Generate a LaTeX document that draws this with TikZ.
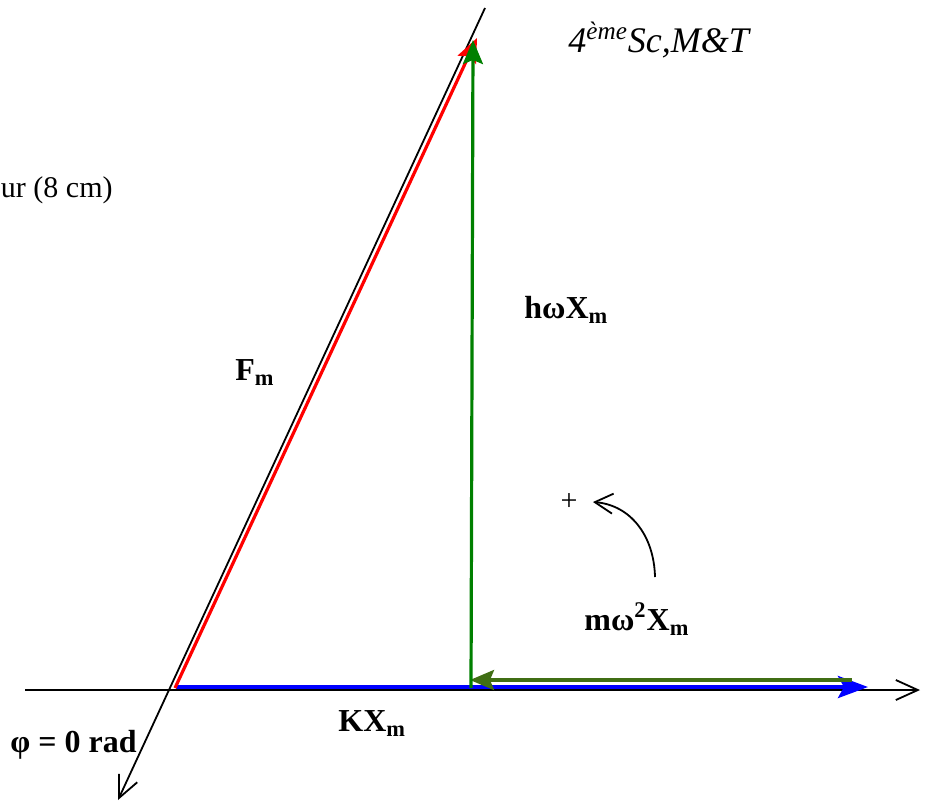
\documentclass[tikz,border=0pt]{standalone}
\usepackage{fontspec}
\setmainfont{Liberation Serif}
\usetikzlibrary{arrows.meta}
\definecolor{vgreen}{RGB}{0,128,0}
\definecolor{volive}{RGB}{64,110,20}
\begin{document}
\begin{tikzpicture}[x=0.5pt,y=-0.5pt,
  axis/.style={draw=black,line width=0.9pt,-{Straight Barb[length=11pt,width=10pt,line width=0.9pt]}},
  vec/.style={line width=1.6pt,-{Stealth[length=12pt,width=10pt,inset=2pt]}},
  lbl/.style={font=\fontsize{16}{18}\selectfont\bfseries,inner sep=0pt,anchor=base west},
  txt/.style={font=\fontsize{15}{17}\selectfont,inner sep=0pt}]
\useasboundingbox (0,0) rectangle (929,803);
% axes
\coordinate (hxs) at (25,690);
\coordinate (hxe) at (920,690);
\coordinate (sxs) at (485,8);
\coordinate (sxe) at (118,800);
\draw[axis] (hxs) -- (hxe);
\draw[axis] (sxs) -- (sxe);
% vectors
\coordinate (O) at (175,688);
\coordinate (P) at (477,38);
\coordinate (B) at (471,688);
\coordinate (T) at (473,40);
\coordinate (Bs) at (176,687);
\coordinate (Be) at (868,687);
\coordinate (Os) at (852,680);
\coordinate (Oe) at (470,680);
\draw[vec,blue,line width=2.2pt,-{Stealth[length=15pt,width=11pt,inset=3pt]}] (Bs) -- (Be);
\draw[vec,volive] (Os) -- (Oe);
\draw[vec,red] (O) -- (P);
\draw[vec,vgreen] (B) -- (T);
% curved arrow
\coordinate (cs) at (655,577);
\coordinate (ce) at (593,502);
\draw[line width=0.9pt,-{Straight Barb[length=9pt,width=10pt,line width=0.9pt]}] (cs) .. controls (654,535) and (630,505) .. (ce);
\node[txt] (plus) at (569,502) {+};
% labels
\node[txt,anchor=base east] (len) at (113,197) {ur (8 cm)};
\node[lbl] (hw) at (524,318) {hωX\textsubscript{m}};
\node[lbl] (fm) at (235,380) {F\textsubscript{m}};
\node[lbl] (mw) at (584,630) {mω\textsuperscript{2}X\textsubscript{m}};
\node[lbl] (kx) at (338,731) {KX\textsubscript{m}};
\node[lbl] (phi) at (10,752) {φ = 0 rad};
\node[inner sep=0pt,anchor=base west,font=\fontsize{18}{21}\selectfont\itshape] (title) at (568,52) {4\textsuperscript{ème}Sc,M\&T};
\end{tikzpicture}
\end{document}
